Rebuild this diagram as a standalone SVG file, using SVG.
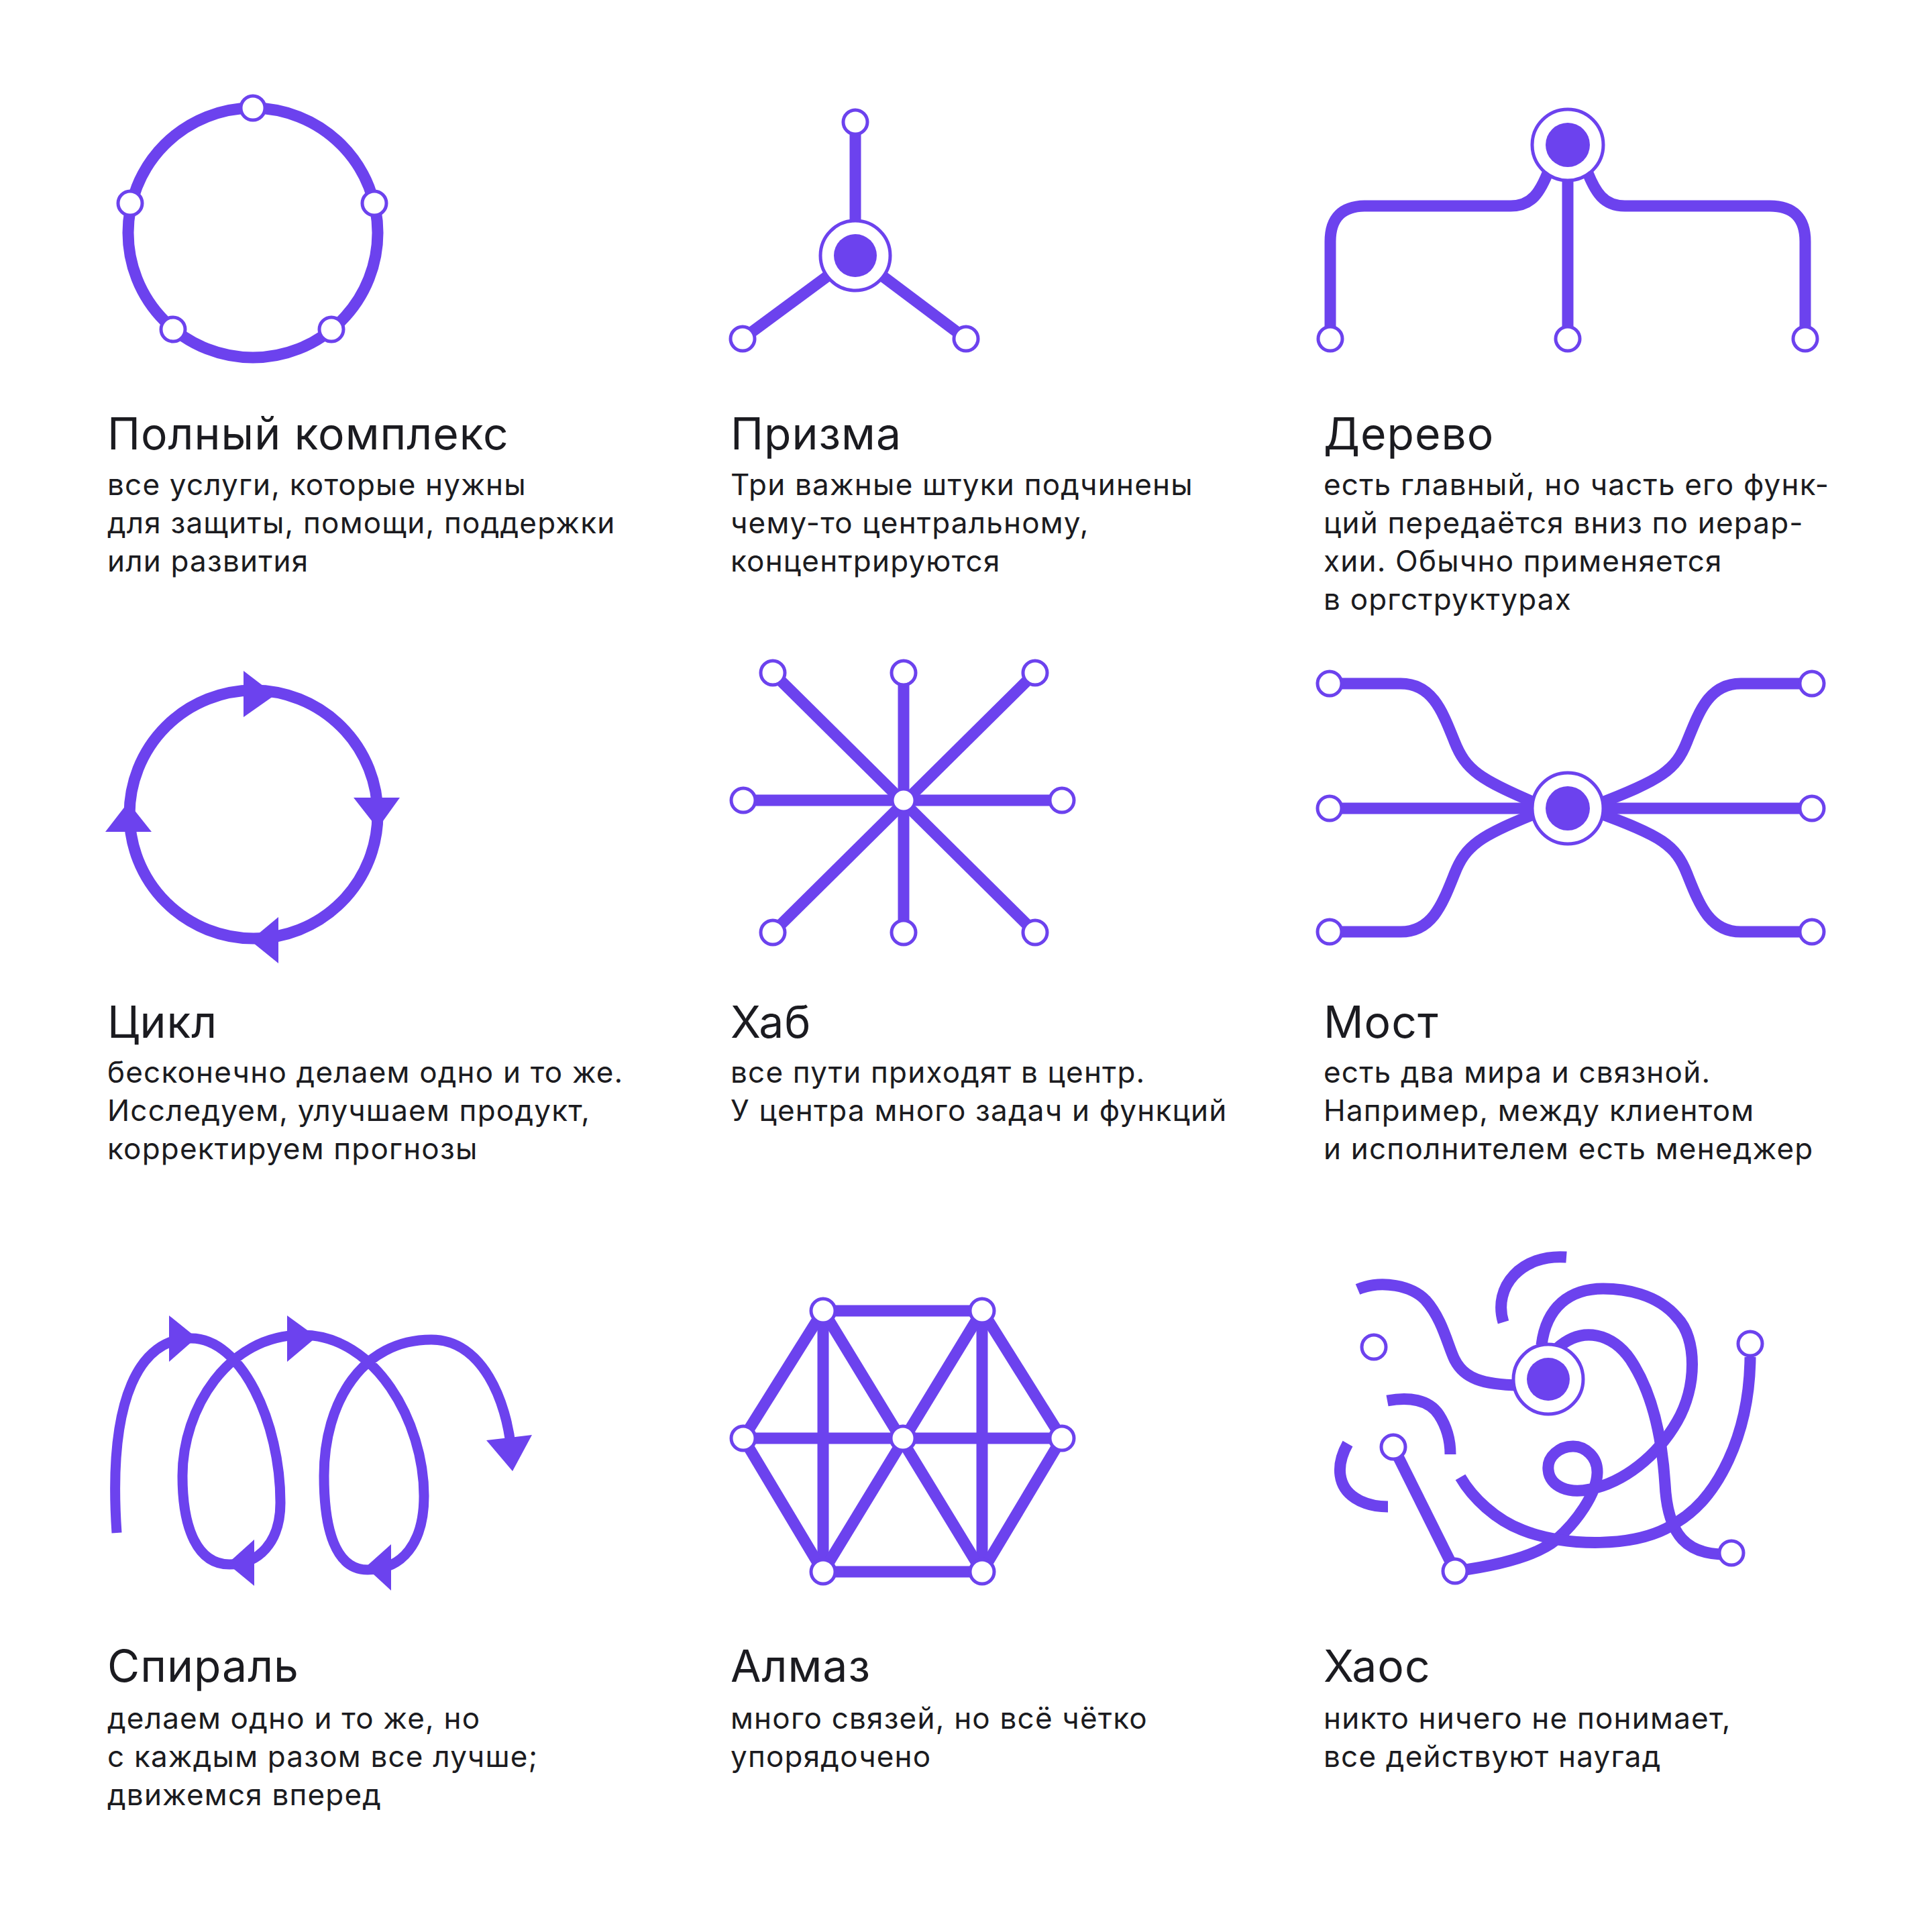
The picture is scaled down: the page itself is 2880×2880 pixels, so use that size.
<svg xmlns="http://www.w3.org/2000/svg" width="2880" height="2880" viewBox="0 0 2880 2880">
<style>
.ln{fill:none;stroke:#6c42ee;stroke-width:17;stroke-linecap:butt;stroke-linejoin:round}
.th{stroke-width:15}
.nd{fill:#fff;stroke:#6c42ee;stroke-width:5}
.hub{fill:#fff;stroke:#6c42ee;stroke-width:5}
.core{fill:#6c42ee}
.ar{fill:#6c42ee}
.t{font-family:Inter,"Noto Sans",sans-serif;fill:#1b1b20;font-size:66px;letter-spacing:1px}
.b{font-family:Inter,"Noto Sans",sans-serif;fill:#1b1b20;font-size:44px;letter-spacing:1.2px}
</style>
<rect width="2880" height="2880" fill="#fff"/>

<!-- 1 Полный комплекс -->
<g id="complex">
  <g class="connectors"><circle class="ln" cx="377" cy="347" r="186"/></g>
  <circle class="nd" cx="377" cy="161" r="18"/>
  <circle class="nd" cx="194" cy="303" r="18"/>
  <circle class="nd" cx="558" cy="303" r="18"/>
  <circle class="nd" cx="258" cy="491" r="18"/>
  <circle class="nd" cx="494" cy="491" r="18"/>
</g>

<!-- 2 Призма -->
<g id="prism">
  <g class="connectors">
    <line class="ln" x1="1275" y1="182" x2="1275" y2="381"/>
    <line class="ln" x1="1107" y1="505" x2="1275" y2="381"/>
    <line class="ln" x1="1440" y1="505" x2="1275" y2="381"/>
  </g>
  <circle class="nd" cx="1275" cy="182" r="18"/>
  <circle class="nd" cx="1107" cy="505" r="18"/>
  <circle class="nd" cx="1440" cy="505" r="18"/>
  <circle class="hub" cx="1275" cy="381" r="52"/>
  <circle class="core" cx="1275" cy="381" r="32"/>
</g>

<!-- 3 Дерево -->
<g id="tree">
  <g class="connectors">
    <path class="ln" d="M1983,505 V360 Q1983,307 2036,307 H2252 C2282,307 2296,290 2312,245"/>
    <path class="ln" d="M2691,505 V360 Q2691,307 2638,307 H2422 C2392,307 2378,290 2362,245"/>
    <line class="ln" x1="2337" y1="216" x2="2337" y2="505"/>
  </g>
  <circle class="nd" cx="1983" cy="505" r="18"/>
  <circle class="nd" cx="2337" cy="505" r="18"/>
  <circle class="nd" cx="2691" cy="505" r="18"/>
  <circle class="hub" cx="2337" cy="216" r="53"/>
  <circle class="core" cx="2337" cy="216" r="33"/>
</g>

<!-- 4 Цикл -->
<g id="cycle">
  <g class="connectors"><circle class="ln" cx="378" cy="1214" r="185"/></g>
  <polygon class="ar" points="363,1000 363,1069 410,1036"/>
  <polygon class="ar" points="527,1189 596,1189 563,1235"/>
  <polygon class="ar" points="415,1367 415,1436 373,1402"/>
  <polygon class="ar" points="157,1240 226,1240 191,1196"/>
</g>

<!-- 5 Хаб -->
<g id="hub">
  <g class="connectors">
    <line class="ln" x1="1152" y1="1003" x2="1543" y2="1390"/>
    <line class="ln" x1="1543" y1="1003" x2="1152" y2="1390"/>
    <line class="ln" x1="1347" y1="1003" x2="1347" y2="1390"/>
    <line class="ln" x1="1108" y1="1193" x2="1583" y2="1193"/>
  </g>
  <circle class="nd" cx="1152" cy="1003" r="18"/>
  <circle class="nd" cx="1347" cy="1003" r="18"/>
  <circle class="nd" cx="1543" cy="1003" r="18"/>
  <circle class="nd" cx="1108" cy="1193" r="18"/>
  <circle class="nd" cx="1583" cy="1193" r="18"/>
  <circle class="nd" cx="1152" cy="1390" r="18"/>
  <circle class="nd" cx="1347" cy="1390" r="18"/>
  <circle class="nd" cx="1543" cy="1390" r="18"/>
  <circle cx="1347" cy="1193" r="16" fill="#fff" stroke="#6c42ee" stroke-width="3"/>
</g>

<!-- 6 Мост -->
<g id="bridge">
  <g class="connectors">
    <path class="ln" d="M1982,1019 H2088 C2135,1019 2150,1060 2168,1105 C2185,1148 2205,1162 2296,1200"/>
    <path class="ln" d="M2701,1019 H2595 C2548,1019 2533,1060 2515,1105 C2498,1148 2478,1162 2378,1200"/>
    <path class="ln" d="M1982,1389 H2088 C2135,1389 2150,1348 2168,1303 C2185,1260 2205,1246 2296,1210"/>
    <path class="ln" d="M2701,1389 H2595 C2548,1389 2533,1348 2515,1303 C2498,1260 2478,1246 2378,1210"/>
    <line class="ln" x1="1982" y1="1205" x2="2701" y2="1205"/>
  </g>
  <circle class="nd" cx="1982" cy="1019" r="18"/>
  <circle class="nd" cx="1982" cy="1205" r="18"/>
  <circle class="nd" cx="1982" cy="1389" r="18"/>
  <circle class="nd" cx="2701" cy="1019" r="18"/>
  <circle class="nd" cx="2701" cy="1205" r="18"/>
  <circle class="nd" cx="2701" cy="1389" r="18"/>
  <circle class="hub" cx="2337" cy="1205" r="53"/>
  <circle class="core" cx="2337" cy="1205" r="33"/>
</g>

<!-- 7 Спираль -->
<g id="spiral">
  <g class="connectors">
    <path class="ln th" d="M174,2285 C160,2080 210,1995 285,1995 C360,1995 418,2120 418,2240 C418,2300 385,2332 342,2332 C295,2332 272,2280 272,2200 C272,2100 340,1990 450,1990 C560,1990 632,2120 632,2230 C632,2300 600,2340 548,2340 C500,2340 483,2280 483,2200 C483,2090 540,1997 643,1997 C720,1997 755,2090 762,2160"/>
  </g>
  <polygon class="ar" points="252,1961 252,2030 293,1994"/>
  <polygon class="ar" points="379,2295 379,2364 339,2331"/>
  <polygon class="ar" points="428,1961 428,2030 472,1993"/>
  <polygon class="ar" points="583,2302 583,2371 545,2336"/>
  <polygon class="ar" points="725,2147 793,2139 764,2193"/>
</g>

<!-- 8 Алмаз -->
<g id="diamond">
  <g class="connectors">
    <line class="ln" x1="1227" y1="1954" x2="1464" y2="1954"/>
    <line class="ln" x1="1227" y1="2343" x2="1464" y2="2343"/>
    <line class="ln" x1="1108" y1="2144" x2="1583" y2="2144"/>
    <line class="ln" x1="1227" y1="1954" x2="1227" y2="2343"/>
    <line class="ln" x1="1464" y1="1954" x2="1464" y2="2343"/>
    <line class="ln" x1="1227" y1="1954" x2="1108" y2="2144"/>
    <line class="ln" x1="1108" y1="2144" x2="1227" y2="2343"/>
    <line class="ln" x1="1464" y1="1954" x2="1583" y2="2144"/>
    <line class="ln" x1="1583" y1="2144" x2="1464" y2="2343"/>
    <line class="ln" x1="1227" y1="1954" x2="1464" y2="2343"/>
    <line class="ln" x1="1464" y1="1954" x2="1227" y2="2343"/>
  </g>
  <circle class="nd" cx="1227" cy="1954" r="18"/>
  <circle class="nd" cx="1464" cy="1954" r="18"/>
  <circle class="nd" cx="1108" cy="2144" r="18"/>
  <circle class="nd" cx="1346" cy="2144" r="18"/>
  <circle class="nd" cx="1583" cy="2144" r="18"/>
  <circle class="nd" cx="1227" cy="2343" r="18"/>
  <circle class="nd" cx="1464" cy="2343" r="18"/>
</g>

<!-- 9 Хаос -->
<g id="chaos">
  <g class="connectors">
    <path class="ln" d="M2335,1874 C2268,1869 2225,1918 2241,1971"/>
    <path class="ln" d="M2024,1922 C2060,1907 2105,1917 2125,1938 C2150,1966 2158,2005 2168,2026 C2182,2055 2210,2064 2265,2065"/>
    <path class="ln" d="M2170,2342 C2230,2334 2290,2320 2320,2295 C2350,2269 2380,2227 2381,2196 C2382,2171 2362,2156 2345,2156 C2325,2156 2306,2171 2308,2191 C2310,2217 2340,2227 2370,2220 C2420,2210 2470,2171 2500,2119 C2530,2067 2530,1995 2500,1964 C2470,1928 2420,1921 2390,1921 C2340,1921 2305,1948 2298,2005"/>
    <path class="ln" d="M2320,2011 C2360,1974 2405,1990 2430,2026 C2465,2078 2478,2150 2482,2212 C2486,2295 2520,2315 2565,2317"/>
    <path class="ln" d="M2609,2023 C2608,2140 2560,2233 2500,2269 C2440,2310 2330,2305 2270,2281 C2230,2266 2195,2233 2177,2202"/>
    <path class="ln" d="M2068,2088 C2100,2082 2130,2086 2145,2109 C2158,2129 2162,2150 2162,2168"/>
    <path class="ln" d="M2009,2152 C1990,2186 1995,2217 2020,2233 C2035,2243 2050,2246 2069,2246"/>
    <line class="ln" x1="2077" y1="2157" x2="2169" y2="2342"/>
  </g>
  <circle class="nd" cx="2048" cy="2008" r="18"/>
  <circle class="nd" cx="2609" cy="2003" r="18"/>
  <circle class="nd" cx="2077" cy="2157" r="18"/>
  <circle class="nd" cx="2169" cy="2342" r="18"/>
  <circle class="nd" cx="2581" cy="2315" r="18"/>
  <circle class="hub" cx="2308" cy="2056" r="52"/>
  <circle class="core" cx="2308" cy="2056" r="32"/>
</g>

<!-- Texts -->
<g id="labels">
  <text class="t" x="160" y="670">Полный комплекс</text>
  <text class="b" x="160" y="738">все услуги, которые нужны</text>
  <text class="b" x="160" y="795">для защиты, помощи, поддержки</text>
  <text class="b" x="160" y="852">или развития</text>

  <text class="t" x="1089" y="670">Призма</text>
  <text class="b" x="1089" y="738">Три важные штуки подчинены</text>
  <text class="b" x="1089" y="795">чему-то центральному,</text>
  <text class="b" x="1089" y="852">концентрируются</text>

  <text class="t" x="1973" y="670">Дерево</text>
  <text class="b" x="1973" y="738">есть главный, но часть его функ-</text>
  <text class="b" x="1973" y="795">ций передаётся вниз по иерар-</text>
  <text class="b" x="1973" y="852">хии. Обычно применяется</text>
  <text class="b" x="1973" y="909">в оргструктурах</text>

  <text class="t" x="160" y="1547">Цикл</text>
  <text class="b" x="160" y="1614">бесконечно делаем одно и то же.</text>
  <text class="b" x="160" y="1671">Исследуем, улучшаем продукт,</text>
  <text class="b" x="160" y="1728">корректируем прогнозы</text>

  <text class="t" x="1089" y="1547">Хаб</text>
  <text class="b" x="1089" y="1614">все пути приходят в центр.</text>
  <text class="b" x="1089" y="1671">У центра много задач и функций</text>

  <text class="t" x="1973" y="1547">Мост</text>
  <text class="b" x="1973" y="1614">есть два мира и связной.</text>
  <text class="b" x="1973" y="1671">Например, между клиентом</text>
  <text class="b" x="1973" y="1728">и исполнителем есть менеджер</text>

  <text class="t" x="160" y="2507">Спираль</text>
  <text class="b" x="160" y="2577">делаем одно и то же, но</text>
  <text class="b" x="160" y="2634">с каждым разом все лучше;</text>
  <text class="b" x="160" y="2691">движемся вперед</text>

  <text class="t" x="1089" y="2507">Алмаз</text>
  <text class="b" x="1089" y="2577">много связей, но всё чётко</text>
  <text class="b" x="1089" y="2634">упорядочено</text>

  <text class="t" x="1973" y="2507">Хаос</text>
  <text class="b" x="1973" y="2577">никто ничего не понимает,</text>
  <text class="b" x="1973" y="2634">все действуют наугад</text>
</g>
</svg>
